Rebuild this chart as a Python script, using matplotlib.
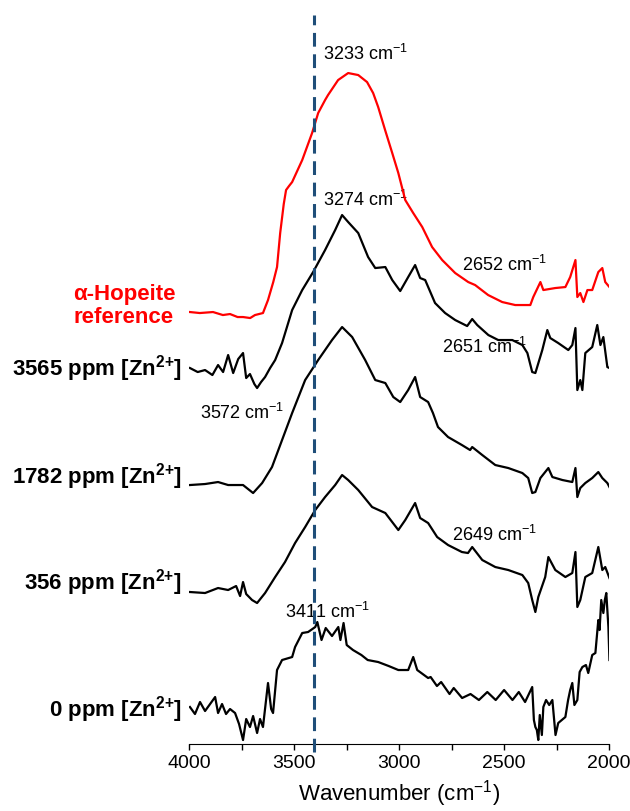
#!/usr/bin/env python3

import matplotlib
matplotlib.use('Agg')
import matplotlib.pyplot as plt
from matplotlib.ticker import MultipleLocator

plt.rcParams['font.family'] = ['Liberation Sans', 'DejaVu Sans']
plt.rcParams['mathtext.fontset'] = 'custom'
plt.rcParams['mathtext.rm'] = 'Liberation Sans'
plt.rcParams['mathtext.bf'] = 'Liberation Sans:bold'

# wavenumber (cm-1) and stacked absorbance (a.u., offset)
red_wn = [3997, 3950, 3887, 3840, 3806, 3770, 3744, 3710, 3687, 3649, 3625,
          3600, 3582, 3567, 3550, 3539, 3525, 3510, 3462, 3415, 3386, 3353,
          3339, 3291, 3243, 3195, 3153, 3124, 3100, 3067, 3033, 3004, 2971,
          2933, 2890, 2843, 2795, 2733, 2671, 2638, 2576, 2509, 2447, 2375,
          2361, 2327, 2313, 2256, 2208, 2185, 2160, 2151, 2137, 2122, 2103,
          2080, 2051, 2032, 2018, 1998]
red_y = [432, 431, 432, 429, 430, 427, 427, 426, 429, 431, 444,
         462, 477, 511, 540, 554, 558, 562, 584, 611, 631, 644,
         649, 664, 671, 669, 662, 651, 637, 614, 591, 571, 544,
         531, 517, 497, 484, 471, 462, 459, 449, 442, 439, 439,
         447, 462, 454, 456, 457, 467, 484, 447, 451, 442, 454,
         454, 472, 476, 462, 457]

s3565_wn = [3997, 3960, 3925, 3890, 3863, 3839, 3815, 3791, 3767, 3744, 3729,
            3711, 3690, 3677, 3658, 3639, 3615, 3591, 3558, 3510, 3462, 3410,
            3353, 3305, 3272, 3243, 3195, 3148, 3114, 3066, 3033, 2995, 2957,
            2924, 2900, 2876, 2829, 2781, 2733, 2676, 2652, 2628, 2575, 2528,
            2461, 2413, 2389, 2366, 2351, 2318, 2294, 2280, 2242, 2194, 2175,
            2160, 2151, 2137, 2127, 2113, 2080, 2056, 2041, 2027, 2008, 1998]
s3565_y = [376, 372, 374, 369, 379, 372, 389, 371, 385, 391, 366,
           370, 360, 356, 362, 367, 376, 384, 401, 434, 454, 472,
           494, 514, 529, 522, 511, 487, 476, 477, 464, 453, 467,
           479, 466, 464, 441, 431, 424, 418, 425, 419, 409, 404,
           404, 399, 391, 372, 371, 394, 414, 406, 401, 394, 399,
           416, 354, 364, 354, 391, 397, 419, 399, 407, 377, 376]

s1782_wn = [3997, 3925, 3863, 3815, 3744, 3696, 3653, 3606, 3558, 3510, 3448,
            3386, 3320, 3272, 3224, 3162, 3114, 3066, 3028, 2995, 2957, 2924,
            2900, 2862, 2839, 2815, 2767, 2701, 2662, 2652, 2604, 2542, 2480,
            2413, 2385, 2366, 2351, 2327, 2289, 2270, 2222, 2175, 2160, 2151,
            2137, 2113, 2080, 2051, 2032, 2008, 1998]
s1782_y = [259, 260, 262, 259, 259, 251, 261, 277, 304, 331, 364,
           384, 404, 417, 407, 384, 364, 361, 347, 342, 354, 367,
           347, 342, 331, 317, 307, 299, 294, 297, 289, 279, 276,
           271, 266, 251, 252, 266, 276, 267, 264, 262, 276, 247,
           256, 261, 266, 272, 266, 261, 257]

s356_wn = [3997, 3925, 3863, 3815, 3777, 3758, 3744, 3729, 3701, 3677, 3639,
           3591, 3544, 3496, 3448, 3400, 3353, 3305, 3272, 3243, 3195, 3129,
           3066, 3004, 2971, 2924, 2900, 2862, 2819, 2767, 2701, 2672, 2652,
           2604, 2542, 2480, 2413, 2385, 2366, 2351, 2337, 2304, 2289, 2256,
           2208, 2175, 2160, 2151, 2137, 2113, 2080, 2051, 2032, 2018, 1998]
s356_y = [152, 151, 156, 154, 158, 148, 162, 150, 144, 141, 151,
          167, 182, 201, 217, 234, 247, 259, 269, 264, 254, 237,
          231, 214, 224, 241, 226, 221, 207, 199, 192, 191, 197,
          184, 177, 174, 169, 161, 144, 132, 147, 167, 187, 174,
          167, 171, 192, 137, 144, 167, 171, 197, 174, 177, 166]

s0_wn = [3997, 3973, 3949, 3925, 3901, 3877, 3863, 3844, 3825, 3806, 3782,
         3763, 3744, 3729, 3711, 3696, 3677, 3663, 3649, 3625, 3610, 3601,
         3582, 3558, 3510, 3496, 3462, 3434, 3400, 3390, 3370, 3350, 3320,
         3290, 3280, 3265, 3250, 3220, 3180, 3150, 3100, 3050, 3004, 2957,
         2933, 2914, 2862, 2850, 2820, 2800, 2760, 2740, 2700, 2660, 2620,
         2580, 2540, 2500, 2460, 2430, 2400, 2366, 2358, 2351, 2344, 2337,
         2330, 2320, 2313, 2300, 2285, 2270, 2255, 2242, 2225, 2208, 2195,
         2185, 2175, 2165, 2151, 2140, 2127, 2110, 2099, 2080, 2065, 2051,
         2045, 2037, 2027, 2020, 2013, 2008, 2003, 1998]
s0_y = [37, 30, 42, 33, 40, 47, 31, 40, 30, 35, 31,
        20, 4, 25, 17, 28, 11, 25, 17, 61, 35, 31,
        74, 84, 87, 97, 111, 112, 117, 122, 104, 116, 108,
        117, 104, 121, 99, 94, 89, 84, 82, 78, 74, 74,
        87, 74, 66, 67, 58, 62, 50, 56, 46, 50, 44,
        52, 44, 54, 44, 52, 42, 57, 24, 17, 14, 4,
        29, 9, 37, 44, 39, 44, 9, 21, 24, 27, 44,
        54, 61, 39, 44, 72, 77, 79, 71, 89, 91, 124,
        114, 144, 131, 144, 151, 134, 117, 84]

sample_labels = ['3565 ppm [Zn$^{\\mathbf{2{+}}}$]', '1782 ppm [Zn$^{\\mathbf{2{+}}}$]',
                 '356 ppm [Zn$^{\\mathbf{2{+}}}$]', '0 ppm [Zn$^{\\mathbf{2{+}}}$]']
label_y = [375, 267, 161, 34]

peak_text = ['3233 cm$^{-1}$', '3274 cm$^{-1}$', '2652 cm$^{-1}$', '2651 cm$^{-1}$',
             '3572 cm$^{-1}$', '2649 cm$^{-1}$', '3411 cm$^{-1}$']
peak_wn = [3361, 3361, 2700, 2795, 3949, 2747, 3544]
peak_y = [690, 544, 479, 397, 331, 209, 132]

marker_wn = 3408


def main():
    fig = plt.figure(figsize=(6.3, 8.11), dpi=100)
    ax = fig.add_axes([0.3005, 0.0826, 0.6662, 0.905])

    for i in range(len(peak_text)):
        ax.text(peak_wn[i], peak_y[i], peak_text[i], fontsize=13,
                ha='left', va='center', zorder=1)

    ax.plot(red_wn, red_y, color='#ff0000', lw=1.6, zorder=3)
    ax.plot(s3565_wn, s3565_y, color='k', lw=1.6, zorder=3)
    ax.plot(s1782_wn, s1782_y, color='k', lw=1.6, zorder=3)
    ax.plot(s356_wn, s356_y, color='k', lw=1.6, zorder=3)
    ax.plot(s0_wn, s0_y, color='k', lw=1.6, zorder=3)

    ax.plot([marker_wn, marker_wn], [-8, 729], color='#1f4e79', lw=2.2,
            dashes=(4.5, 2.5), clip_on=False, zorder=4)

    ax.text(4311, 438, 'α-Hopeite\nreference', color='#ff0000', fontsize=16,
            fontweight='bold', ha='center', va='center', linespacing=1.1,
            clip_on=False)
    for i in range(len(sample_labels)):
        ax.text(4035, label_y[i], sample_labels[i], fontsize=16,
                fontweight='bold', ha='right', va='center', clip_on=False)

    ax.set_xlim(4000, 2000)
    ax.set_ylim(0, 734)
    ax.xaxis.set_major_locator(MultipleLocator(500))
    ax.xaxis.set_minor_locator(MultipleLocator(250))
    ax.tick_params(axis='x', which='both', direction='out', length=4,
                   width=1, labelsize=14, pad=4)
    ax.set_yticks([])
    for s in ['left', 'right', 'top']:
        ax.spines[s].set_visible(False)
    ax.set_xlabel('Wavenumber (cm$^{-1}$)', fontsize=16, labelpad=4)

    fig.savefig('out.png', dpi=100)


if __name__ == '__main__':
    main()
